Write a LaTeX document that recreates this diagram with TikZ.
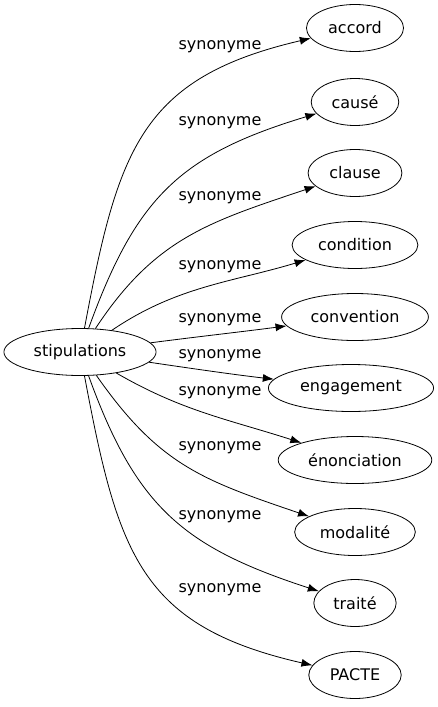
\documentclass[tikz,border=0pt]{standalone}
\usepackage{fontspec}
\setmainfont{DejaVu Sans}
\usepackage{tikz}
\usetikzlibrary{shapes.geometric,arrows.meta}

\tikzset{
  word/.style={ellipse,draw=black,line width=0.8pt,inner xsep=7.5pt,inner ysep=2pt,
    minimum height=47pt,font=\fontsize{16}{19}\selectfont},
  rel/.style={font=\fontsize{16}{19}\selectfont,inner sep=0pt},
  link/.style={line width=0.8pt,-{Latex[length=11pt,width=8pt]}}
}

\begin{document}
\begin{tikzpicture}[x=1pt,y=-1pt]
\useasboundingbox (0,0) rectangle (437,707);
\node at (80,352) [word] (Node0) {stipulations};
\node at (355,28) [word] (Node1) {accord};
\node at (355,102) [word] (Node2) {causé};
\node at (355,173) [word] (Node3) {clause};
\node at (355,245) [word] (Node4) {condition};
\node at (355,317) [word] (Node5) {convention};
\node at (351,388) [word] (Node6) {engagement};
\node at (355,460) [word] (Node7) {énonciation};
\node at (355,532) [word] (Node8) {modalité};
\node at (355,603) [word] (Node9) {traité};
\node at (355,675) [word] (Node10) {PACTE};
% Edge Labels
\node at (220,47) [rel] (Label1) {synonyme};
\node at (220,123) [rel] (Label2) {synonyme};
\node at (220,198) [rel] (Label3) {synonyme};
\node at (220,267) [rel] (Label4) {synonyme};
\node at (220,320) [rel] (Label5) {synonyme};
\node at (220,356) [rel] (Label6) {synonyme};
\node at (220,393) [rel] (Label7) {synonyme};
\node at (220,448) [rel] (Label8) {synonyme};
\node at (220,517) [rel] (Label9) {synonyme};
\node at (220,590) [rel] (Label10) {synonyme};
% Node Connections
\draw [link] (Node0) .. controls (118,150) and (140,78) .. (Node1);
\draw [link] (Node0) .. controls (136,198) and (179,155) .. (Node2);
\draw [link] (Node0) .. controls (155,238) and (209,222) .. (Node3);
\draw [link] (Node0) .. controls (177,286) and (233,282) .. (Node4);
\draw [link] (Node0) .. controls (195,337) and (240,332) .. (Node5);
\draw [link] (Node0) .. controls (195,369) and (237,375) .. (Node6);
\draw [link] (Node0) .. controls (182,411) and (227,419) .. (Node7);
\draw [link] (Node0) .. controls (159,465) and (202,480) .. (Node8);
\draw [link] (Node0) .. controls (136,507) and (183,547) .. (Node9);
\draw [link] (Node0) .. controls (118,554) and (140,626) .. (Node10);
\end{tikzpicture}
\end{document}
